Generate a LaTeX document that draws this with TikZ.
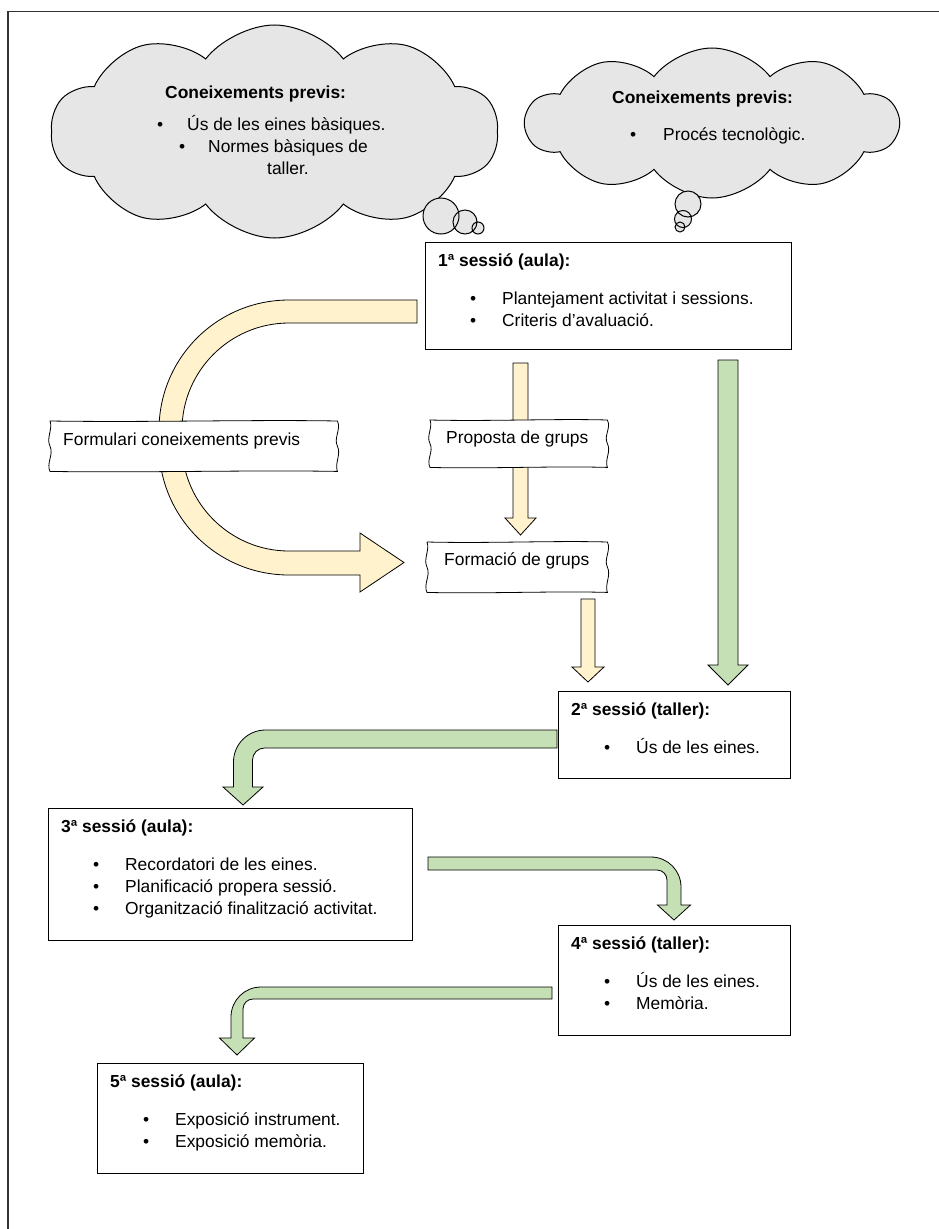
\documentclass[tikz,border=0pt]{standalone}
\usepackage{fontspec}
\setmainfont{Liberation Sans}
\usetikzlibrary{shapes.symbols,calc,backgrounds}
\definecolor{cloudfill}{HTML}{E6E6E6}
\definecolor{paleyellow}{HTML}{FFF2CC}
\definecolor{palegreen}{HTML}{C5E0B4}
\tikzset{sessionbox/.style={draw,fill=white,anchor=north west,inner sep=0pt,line width=1pt},
sessiontitle/.style={anchor=base west,inner sep=0pt,font=\fontsize{17.4}{22}\selectfont\bfseries},
listline/.style={anchor=base west,inner sep=0pt,font=\fontsize{17.4}{22}\selectfont},
banner/.style={anchor=north west,inner sep=0pt},
thought/.style={cloud,cloud puffs=10,cloud puff arc=105,cloud ignores aspect,draw,fill=cloudfill,line width=1pt,inner sep=0pt},
yellowarrow/.style={draw,fill=paleyellow,line width=0.8pt,line join=miter},
greenarrow/.style={draw,fill=palegreen,line width=0.8pt,line join=miter}}
% wavy outline round a banner node
\newcommand{\wavyframe}[1]{%
  \draw[fill=white,line width=0.8pt] (#1.north west)
    .. controls ($(#1.north west)!.35!(#1.north east)+(0,1.5)$) and ($(#1.north west)!.7!(#1.north east)+(0,-1.5)$) .. (#1.north east)
    .. controls ($(#1.north east)+(4,8)$) and ($(#1.east)+(-4,-8)$) .. (#1.east)
    .. controls ($(#1.east)+(4,8)$) and ($(#1.south east)+(-3,-8)$) .. (#1.south east)
    .. controls ($(#1.south east)!.3!(#1.south west)+(0,-1.5)$) and ($(#1.south east)!.7!(#1.south west)+(0,1.5)$) .. (#1.south west)
    .. controls ($(#1.south west)+(-4,-8)$) and ($(#1.west)+(4,8)$) .. (#1.west)
    .. controls ($(#1.west)+(-4,-8)$) and ($(#1.north west)+(3,8)$) .. (#1.north west) -- cycle;}
% block arrow pointing down: style, tail, tip, half shaft, half head, head length
\newcommand{\blockdown}[6]{%
  \draw[#1] ($(#2)+(-#4,0)$) -- ($(#3)+(-#4,-#6)$) -- ($(#3)+(-#5,-#6)$) -- (#3)
    -- ($(#3)+(#5,-#6)$) -- ($(#3)+(#4,-#6)$) -- ($(#2)+(#4,0)$) -- cycle;}

\begin{document}
\begin{tikzpicture}[x=1pt,y=-1pt]
\useasboundingbox (0,0) rectangle (939,1229);
\draw[line width=1.3pt,black!80] (8,1229) -- (8,11.5) -- (939,11.5);

% clouds
\node[thought,minimum width=447pt,minimum height=213pt] (cloudA) at (274.5,131.5) {};
\node[thought,minimum width=372pt,minimum height=150pt] (cloudB) at (712,123) {};
\fill[cloudfill] (441,216) circle[radius=18pt] (465,222) circle[radius=12pt] (478,228) circle[radius=6pt]
  (688,204) circle[radius=13pt] (683,219) circle[radius=8.5pt] (680,227) circle[radius=5pt];
\draw[line width=1pt] (441,216) circle[radius=18pt] (465,222) circle[radius=12pt] (478,228) circle[radius=6pt]
  (688,204) circle[radius=13pt] (683,219) circle[radius=8.5pt] (680,227) circle[radius=5pt];
\node[sessiontitle] (cloudAtitle) at (165,98) {Coneixements previs:};
\node[listline] (cloudAa) at (157,130) {\makebox[30pt][l]{\textbullet}Ús de les eines bàsiques.};
\node[listline] (cloudAb) at (179,152) {\makebox[29pt][l]{\textbullet}Normes bàsiques de};
\node[listline] (cloudAc) at (267,174) {taller.};
\node[sessiontitle] (cloudBtitle) at (612,103) {Coneixements previs:};
\node[listline] (cloudBa) at (630,140) {\makebox[33pt][l]{\textbullet}Procés tecnològic.};

% sessions
\node[sessionbox,minimum width=366pt,minimum height=107pt] (s1) at (425,242) {};
\node[sessiontitle] (s1title) at ($(s1.north west)+(13,24)$) {1ª sessió (aula):};
\node[listline] (s1a) at ($(s1.north west)+(45,62)$) {\makebox[32pt][l]{\textbullet}Plantejament activitat i sessions.};
\node[listline] (s1b) at ($(s1.north west)+(45,84)$) {\makebox[32pt][l]{\textbullet}Criteris d’avaluació.};

\node[sessionbox,minimum width=232pt,minimum height=87pt] (s2) at (558,691) {};
\node[sessiontitle] (s2title) at ($(s2.north west)+(13,24)$) {2ª sessió (taller):};
\node[listline] (s2a) at ($(s2.north west)+(46,62)$) {\makebox[32pt][l]{\textbullet}Ús de les eines.};

\node[sessionbox,minimum width=364pt,minimum height=132pt] (s3) at (48,808) {};
\node[sessiontitle] (s3title) at ($(s3.north west)+(13,24)$) {3ª sessió (aula):};
\node[listline] (s3a) at ($(s3.north west)+(45,62)$) {\makebox[32pt][l]{\textbullet}Recordatori de les eines.};
\node[listline] (s3b) at ($(s3.north west)+(45,84)$) {\makebox[32pt][l]{\textbullet}Planificació propera sessió.};
\node[listline] (s3c) at ($(s3.north west)+(45,106)$) {\makebox[32pt][l]{\textbullet}Organització finalització activitat.};

\node[sessionbox,minimum width=232pt,minimum height=110pt] (s4) at (558,925) {};
\node[sessiontitle] (s4title) at ($(s4.north west)+(13,24)$) {4ª sessió (taller):};
\node[listline] (s4a) at ($(s4.north west)+(46,62)$) {\makebox[32pt][l]{\textbullet}Ús de les eines.};
\node[listline] (s4b) at ($(s4.north west)+(46,84)$) {\makebox[32pt][l]{\textbullet}Memòria.};

\node[sessionbox,minimum width=266pt,minimum height=110pt] (s5) at (97,1063) {};
\node[sessiontitle] (s5title) at ($(s5.north west)+(13,24)$) {5ª sessió (aula):};
\node[listline] (s5a) at ($(s5.north west)+(46,62)$) {\makebox[32pt][l]{\textbullet}Exposició instrument.};
\node[listline] (s5b) at ($(s5.north west)+(46,84)$) {\makebox[32pt][l]{\textbullet}Exposició memòria.};

% banners
\node[banner,minimum width=287pt,minimum height=50pt] (form) at (50,421) {};
\node[listline] (formtext) at ($(form.north west)+(13,24)$) {Formulari coneixements previs};
\node[banner,minimum width=177pt,minimum height=47pt] (prop) at (430,420) {};
\node[listline] (proptext) at ($(prop.north west)+(16,23)$) {Proposta de grups};
\node[banner,minimum width=180pt,minimum height=50pt] (groups) at (427,542) {};
\node[listline] (groupstext) at ($(groups.north west)+(17,23)$) {Formació de grups};

\begin{scope}[on background layer]
% arrow ends
\coordinate (uA) at (417,311.5);
\coordinate (uB) at (404,562.5);
\coordinate (y1a) at (520.5,363);
\coordinate (y1b) at (520.5,535);
\coordinate (y2a) at (588,599);
\coordinate (y2b) at (588,682);
\coordinate (g1a) at (728,360);
\coordinate (g1b) at (728,685);
\coordinate (t23) at (557,739);
\coordinate (h23) at (243,805);
\coordinate (t34) at (428,863.5);
\coordinate (h34) at (674,920);
\coordinate (t45) at (552,993);
\coordinate (h45) at (237,1055);

\draw[yellowarrow] ($(uA)+(0,-11.5)$) -- (289,300) .. controls (217,300) and (159,358) .. (159,430)
  -- (159,445) .. controls (159,517) and (217,575) .. (289,575) -- ($(uB)+(-44,12.5)$)
  -- ($(uB)+(-44,29.5)$) -- (uB) -- ($(uB)+(-44,-29.5)$) -- ($(uB)+(-44,-11.5)$)
  -- (289,551) .. controls (230,551) and (182,503) .. (182,444) -- (182,430)
  .. controls (182,371) and (230,323) .. (289,323) -- ($(uA)+(0,11.5)$) -- cycle;
\blockdown{yellowarrow}{y1a}{y1b}{7.5}{15.5}{17}
\blockdown{yellowarrow}{y2a}{y2b}{7}{16}{15}
\blockdown{greenarrow}{g1a}{g1b}{10}{20}{20}

\draw[greenarrow] ($(t23)+(0,-9)$) -- (265.5,730) .. controls (247.8,730) and (233.5,744.3) .. (233.5,762)
  -- ($(h23)+(-9.5,-18)$) -- ($(h23)+(-20,-18)$) -- (h23) -- ($(h23)+(20,-18)$) -- ($(h23)+(9.5,-18)$)
  -- (252.5,760) .. controls (252.5,753.4) and (257.9,748) .. (264.5,748) -- ($(t23)+(0,9)$) -- cycle;
\draw[greenarrow] ($(t34)+(0,-6.5)$) -- (651,857) .. controls (667.6,857) and (681,870.4) .. (681,887)
  -- ($(h34)+(7,-15)$) -- ($(h34)+(16.5,-15)$) -- (h34) -- ($(h34)+(-16.5,-15)$) -- ($(h34)+(-7,-15)$)
  -- (667,880) .. controls (667,874.5) and (662.5,870) .. (657,870) -- ($(t34)+(0,6.5)$) -- cycle;
\draw[greenarrow] ($(t45)+(0,-6)$) -- (261,987) .. controls (244.4,987) and (231,1000.4) .. (231,1017)
  -- ($(h45)+(-6,-17)$) -- ($(h45)+(-17.5,-17)$) -- (h45) -- ($(h45)+(17.5,-17)$) -- ($(h45)+(6,-17)$)
  -- (243,1009) .. controls (243,1003.5) and (247.5,999) .. (253,999) -- ($(t45)+(0,6)$) -- cycle;

\wavyframe{form}
\wavyframe{prop}
\wavyframe{groups}
\end{scope}
\end{tikzpicture}
\end{document}
